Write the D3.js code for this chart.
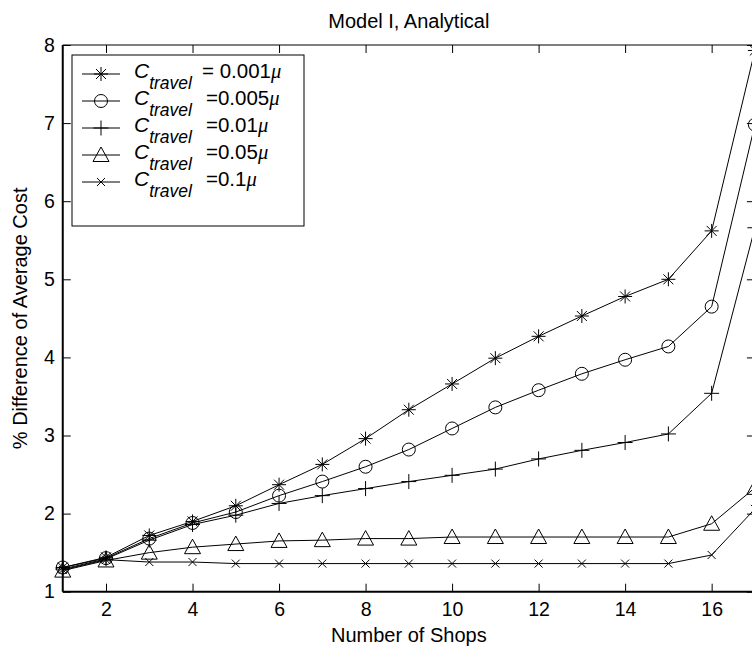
<!DOCTYPE html>
<html>
<head>
<meta charset="utf-8">
<script src="https://cdn.jsdelivr.net/npm/d3@7"></script>
<style>
  html, body { margin: 0; padding: 0; background: #fff; }
  svg { display: block; }
  text { font-family: "Liberation Sans", Arial, Helvetica, sans-serif; fill: #000; }
</style>
</head>
<body>
<svg id="chart" width="752" height="647"></svg>
<script>
// Number of shops on the x axis
const shops = [1, 2, 3, 4, 5, 6, 7, 8, 9, 10, 11, 12, 13, 14, 15, 16, 17];

// % difference of average cost for each travel-cost setting
const cost001 = [1.31, 1.44, 1.72, 1.90, 2.10, 2.37, 2.63, 2.96, 3.33, 3.66, 3.99, 4.27, 4.53, 4.78, 5.00, 5.62, 7.93];
const cost005 = [1.31, 1.43, 1.68, 1.88, 2.02, 2.23, 2.41, 2.60, 2.82, 3.09, 3.36, 3.58, 3.79, 3.97, 4.14, 4.65, 6.98];
const cost01  = [1.29, 1.42, 1.66, 1.86, 1.98, 2.13, 2.23, 2.32, 2.41, 2.49, 2.57, 2.70, 2.81, 2.91, 3.02, 3.54, 5.66];
const cost05  = [1.27, 1.40, 1.50, 1.57, 1.61, 1.65, 1.66, 1.68, 1.68, 1.70, 1.70, 1.70, 1.70, 1.70, 1.70, 1.87, 2.33];
const cost1   = [1.28, 1.41, 1.38, 1.38, 1.36, 1.36, 1.36, 1.36, 1.36, 1.36, 1.36, 1.36, 1.36, 1.36, 1.36, 1.47, 2.06];

// Legend coefficients (multiples of mu) and marker shapes
const legendValues = ["= 0.001", "=0.005", "=0.01", "=0.05", "=0.1"];
const markerKinds = ["star", "circle", "plus", "triangle", "cross"];

// Axis ticks
const xTicks = [2, 4, 6, 8, 10, 12, 14, 16];
const yTicks = [1, 2, 3, 4, 5, 6, 7, 8];

const series = [cost001, cost005, cost01, cost05, cost1];

const svg = d3.select("#chart");
const plotLeft = 62.75, plotRight = 754.9, plotTop = 45, plotBottom = 591.7;

const x = d3.scaleLinear().domain([1, 17]).range([plotLeft, plotRight]);
const y = d3.scaleLinear().domain([1, 8]).range([plotBottom, plotTop]);

// Marker path builder, centred on (0,0)
function markerPath(kind) {
  const p = d3.path();
  if (kind === "star") {
    const a = 7, b = 5;
    p.moveTo(-a, 0); p.lineTo(a, 0);
    p.moveTo(0, -a); p.lineTo(0, a);
    p.moveTo(-b, -b); p.lineTo(b, b);
    p.moveTo(-b, b); p.lineTo(b, -b);
  } else if (kind === "circle") {
    p.moveTo(6.5, 0);
    p.arc(0, 0, 6.5, 0, 2 * Math.PI);
  } else if (kind === "plus") {
    const a = 7.5;
    p.moveTo(-a, 0); p.lineTo(a, 0);
    p.moveTo(0, -a); p.lineTo(0, a);
  } else if (kind === "triangle") {
    p.moveTo(0, -8); p.lineTo(8, 6.5); p.lineTo(-8, 6.5); p.closePath();
  } else if (kind === "cross") {
    const b = 4;
    p.moveTo(-b, -b); p.lineTo(b, b);
    p.moveTo(-b, b); p.lineTo(b, -b);
  }
  return p.toString();
}

// Axes: ticks pointing inward on all four sides
const fmt = d3.format("d");
const gx = svg.append("g").attr("transform", `translate(0,${plotBottom})`)
  .call(d3.axisBottom(x).tickValues(xTicks).tickFormat(fmt).tickSizeInner(-8).tickSizeOuter(0).tickPadding(10));
const gxTop = svg.append("g").attr("transform", `translate(0,${plotTop})`)
  .call(d3.axisTop(x).tickValues(xTicks).tickSizeInner(-8).tickSizeOuter(0).tickFormat(""));
const gy = svg.append("g").attr("transform", `translate(${plotLeft},0)`)
  .call(d3.axisLeft(y).tickValues(yTicks).tickFormat(fmt).tickSizeInner(-8).tickSizeOuter(0).tickPadding(8));
const gyRight = svg.append("g").attr("transform", `translate(${plotRight},0)`)
  .call(d3.axisRight(y).tickValues(yTicks).tickSizeInner(-8).tickSizeOuter(0).tickFormat(""));

[gx, gxTop, gy, gyRight].forEach(g => {
  g.select(".domain").remove();
  g.selectAll(".tick line").attr("stroke", "#000").attr("stroke-width", 1);
  g.selectAll(".tick text").style("font-size", "19.5px").attr("fill", "#000");
});

// Axes box
svg.append("line").attr("x1", plotLeft).attr("x2", plotRight + 5).attr("y1", plotBottom).attr("y2", plotBottom)
  .attr("stroke", "#000").attr("stroke-width", 2);
svg.append("line").attr("x1", plotLeft).attr("x2", plotLeft).attr("y1", plotTop).attr("y2", plotBottom)
  .attr("stroke", "#000").attr("stroke-width", 2);
svg.append("line").attr("x1", plotLeft).attr("x2", plotRight + 5).attr("y1", plotTop).attr("y2", plotTop)
  .attr("stroke", "#000").attr("stroke-width", 1.2);
svg.append("line").attr("x1", plotRight).attr("x2", plotRight).attr("y1", plotTop).attr("y2", plotBottom)
  .attr("stroke", "#000").attr("stroke-width", 1.2);

// Series lines and markers
const line = d3.line().x((d, i) => x(shops[i])).y(d => y(d));
series.forEach((vals, si) => {
  svg.append("path").datum(vals)
    .attr("d", line)
    .attr("fill", "none").attr("stroke", "#000").attr("stroke-width", 1);
  svg.append("g").selectAll("path").data(vals).join("path")
    .attr("transform", (d, i) => `translate(${x(shops[i])},${y(d)})`)
    .attr("d", markerPath(markerKinds[si]))
    .attr("fill", "none").attr("stroke", "#000").attr("stroke-width", 1);
});

// Title and axis labels
svg.append("text").attr("x", (plotLeft + plotRight) / 2).attr("y", 28)
  .attr("text-anchor", "middle").style("font-size", "20px").text("Model I, Analytical");
svg.append("text").attr("x", (plotLeft + plotRight) / 2).attr("y", 641.5)
  .attr("text-anchor", "middle").style("font-size", "20px").text("Number of Shops");
svg.append("text").attr("transform", `translate(27,${(plotTop + plotBottom) / 2}) rotate(-90)`)
  .attr("text-anchor", "middle").style("font-size", "20px").text("% Difference of Average Cost");

// Legend
const lg = svg.append("g");
lg.append("rect").attr("x", 72).attr("y", 55).attr("width", 232).attr("height", 171)
  .attr("fill", "#fff").attr("stroke", "#000").attr("stroke-width", 1);
legendValues.forEach((v, i) => {
  const cy = 74 + i * 27;
  const base = cy + 4;
  lg.append("line").attr("x1", 82).attr("x2", 120).attr("y1", cy).attr("y2", cy)
    .attr("stroke", "#000").attr("stroke-width", 1);
  lg.append("path").attr("transform", `translate(101,${cy})`).attr("d", markerPath(markerKinds[i]))
    .attr("fill", "none").attr("stroke", "#000").attr("stroke-width", 1);
  const lab = lg.append("text").attr("x", 134).attr("y", base).style("font-style", "italic");
  lab.append("tspan").style("font-size", "21px").text("C");
  lab.append("tspan").attr("dy", 11).style("font-size", "17.5px").text("travel");
  const t = lg.append("text").attr("x", i === 0 ? 202 : 206).attr("y", base).style("font-size", "20.5px");
  t.append("tspan").text(v);
  t.append("tspan").style("font-style", "italic")
    .style("font-family", "'Liberation Serif', 'Times New Roman', serif").text("\u03bc");
});
</script>
</body>
</html>
